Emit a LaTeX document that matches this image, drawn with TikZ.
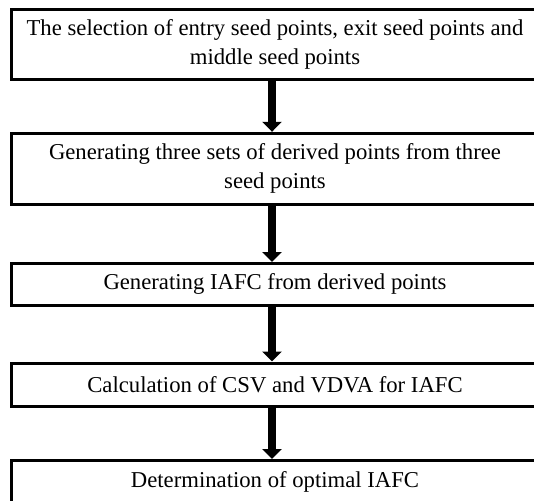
\documentclass[tikz,border=0pt]{standalone}
\usepackage{fontspec}
\setmainfont{Liberation Serif}
\usetikzlibrary{arrows.meta}
\begin{document}
\begin{tikzpicture}[x=1pt,y=-1pt,
  stepbox/.style={draw=black, line width=3pt, minimum width=528pt, inner sep=0pt, align=center,
    font=\fontsize{22.7}{29}\selectfont},
  flowarrow/.style={line width=8pt, -{Triangle[width=19pt,length=10pt]}}]
\useasboundingbox (0,0) rectangle (534,500);
\clip (0,0) rectangle (534,500);
\fill[white] (0,0) rectangle (534,500);
\node[stepbox, minimum height=70.5pt] (b1) at (275,44.75) {The selection of entry seed points, exit seed points and\\middle seed points};
\node[stepbox, minimum height=71.2pt] (b2) at (275,168.9) {Generating three sets of derived points from three\\seed points};
\node[stepbox, minimum height=41.5pt] (b3) at (275,284.25) {Generating IAFC from derived points};
\node[stepbox, minimum height=43.7pt] (b4) at (275,384.85) {Calculation of CSV and VDVA for IAFC};
\node[stepbox, minimum height=42pt] (b5) at (275,481.5) {Determination of optimal IAFC};
\draw[flowarrow] ([xshift=-3pt]b1.south) -- ([xshift=-3pt]b2.north);
\draw[flowarrow] ([xshift=-3pt]b2.south) -- ([xshift=-3pt]b3.north);
\draw[flowarrow] ([xshift=-3pt]b3.south) -- ([xshift=-3pt]b4.north);
\draw[flowarrow] ([xshift=-3pt]b4.south) -- ([xshift=-3pt]b5.north);
\end{tikzpicture}
\end{document}
